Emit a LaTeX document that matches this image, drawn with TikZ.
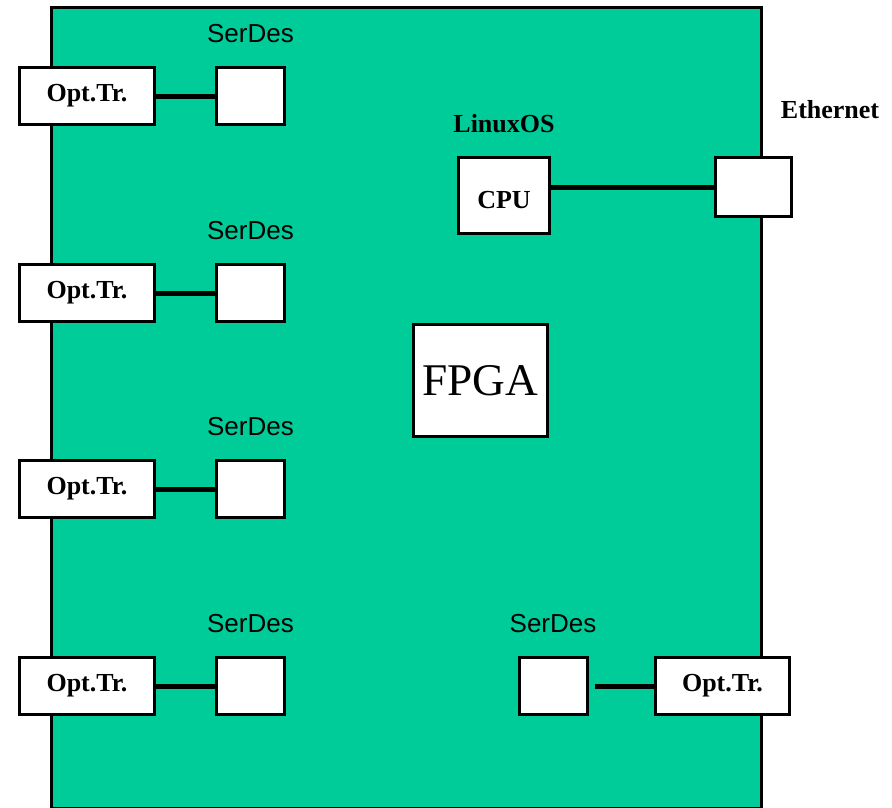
\documentclass[tikz,border=0pt]{standalone}
\usepackage{fontspec}
\setmainfont{Liberation Serif}
\setsansfont{Liberation Sans}
\usetikzlibrary{positioning}
\definecolor{boardgreen}{RGB}{0,204,153}

\begin{document}
\begin{tikzpicture}[
  x=0.75pt, y=-0.75pt, node distance=17pt,
  box/.style={draw, line width=2.25pt, fill=white, inner sep=0pt,
              font=\bfseries\fontsize{19.5}{22}\selectfont},
  optr/.style={box, minimum width=101pt, minimum height=43pt},
  serdes/.style={box, minimum width=51pt, minimum height=43pt},
  lbl/.style={inner sep=0pt, font=\sffamily\fontsize{19.5}{22}\selectfont},
  blbl/.style={inner sep=0pt, font=\bfseries\fontsize{19.5}{22}\selectfont},
  wire/.style={line width=3.75pt}
]
  \useasboundingbox (0,0) rectangle (892,807);
  % board
  \draw[line width=2.25pt, fill=boardgreen] (51,7) rectangle (761,808);

  % left column
  \node[optr] (opt1) at (87,96) {Opt.Tr.};
  \node[optr] (opt2) at (87,293) {Opt.Tr.};
  \node[optr] (opt3) at (87,489) {Opt.Tr.};
  \node[optr] (opt4) at (87,686) {Opt.Tr.};
  \node[serdes] (sd1) at (250.5,96) {};
  \node[serdes] (sd2) at (250.5,293) {};
  \node[serdes] (sd3) at (250.5,489) {};
  \node[serdes] (sd4) at (250.5,686) {};
  \node[lbl, above=of sd1] (sdl1) {SerDes};
  \node[lbl, above=of sd2] (sdl2) {SerDes};
  \node[lbl, above=of sd3] (sdl3) {SerDes};
  \node[lbl, above=of sd4] (sdl4) {SerDes};

  % bottom right
  \node[serdes] (sd5) at (553,686) {};
  \node[optr] (opt5) at (722.5,686) {Opt.Tr.};
  \node[lbl, above=of sd5] (sdl5) {SerDes};

  % cpu and ethernet
  \node[box, minimum width=68pt, minimum height=57pt] (cpu) at (504,195.5)
    {\raisebox{-10pt}[0pt][0pt]{CPU}};
  \node[blbl, above=of cpu] (linux) {LinuxOS};
  \node[box, minimum width=57pt, minimum height=44pt] (eth) at (753.5,187) {};
  \node[blbl] (ethl) at (830,110) {Ethernet};

  % fpga
  \node[box, font=\fontsize{34}{38}\selectfont, minimum width=100.5pt,
        minimum height=84pt] (fpga) at (480.5,380.5) {FPGA};

  \draw[wire] (opt1) -- (sd1);
  \draw[wire] (opt2) -- (sd2);
  \draw[wire] (opt3) -- (sd3);
  \draw[wire] (opt4) -- (sd4);
  \draw[wire, shorten <=4.5pt] (sd5) -- (opt5);
  \draw[wire] (cpu.east |- eth) -- (eth);
\end{tikzpicture}
\end{document}
